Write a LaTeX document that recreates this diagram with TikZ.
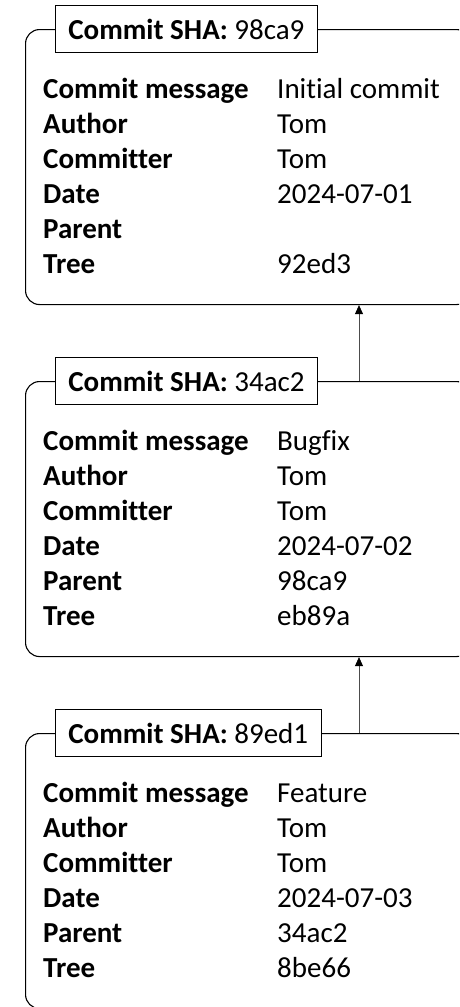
\documentclass[tikz,border=0pt]{standalone}
\usepackage{fontspec}
\setmainfont[Ligatures=NoCommon]{Carlito}
\usetikzlibrary{arrows.meta}

\begin{document}
\begin{tikzpicture}[
    x=1pt, y=1pt,
    font=\fontsize{29}{34}\selectfont,
    commit/.style={draw, line width=1.1pt, rounded corners=14pt,
      minimum width=445pt, minimum height=275pt, inner sep=0pt, anchor=north west},
    shabox/.style={draw, fill=white, line width=0.8pt, minimum height=47pt,
      inner xsep=13pt, anchor=west},
    field/.style={font=\fontsize{29}{34}\selectfont\bfseries, anchor=base west, inner sep=0pt},
    value/.style={anchor=base west, inner sep=0pt},
    parentof/.style={line width=0.7pt, draw=black!70,
      -{Triangle[width=8pt, length=9pt, color=black]}},
  ]
  \clip (0,0) rectangle (459,-1007);

  % one box per commit, newest at the bottom
  \foreach \c/\sha/\msg/\day/\up/\tree in {
      1/98ca9/Initial commit/2024-07-01//92ed3,
      2/34ac2/Bugfix/2024-07-02/98ca9/eb89a,
      3/89ed1/Feature/2024-07-03/34ac2/8be66}
  {
    \node[commit] (c\c) at (25,{-29-352*(\c-1)}) {};
    \node[shabox] (t\c) at ([xshift=30pt]c\c.north west)
      {\textbf{Commit SHA:} \sha};
    \foreach \lab/\val [count=\i] in {Commit message/\msg, Author/Tom,
        Committer/Tom, Date/\day, Parent/\up, Tree/\tree}
    {
      \node[field] (c\c-l\i) at ([xshift=18pt, yshift={-34-35*\i}]c\c.north west) {\lab};
      \node[value] (c\c-v\i) at ([xshift=252pt, yshift={-34-35*\i}]c\c.north west) {\val};
    }
  }

  \draw[parentof] ([xshift=334pt]c2.north west) -- ([xshift=334pt]c1.south west);
  \draw[parentof] ([xshift=334pt]c3.north west) -- ([xshift=334pt]c2.south west);
\end{tikzpicture}
\end{document}
